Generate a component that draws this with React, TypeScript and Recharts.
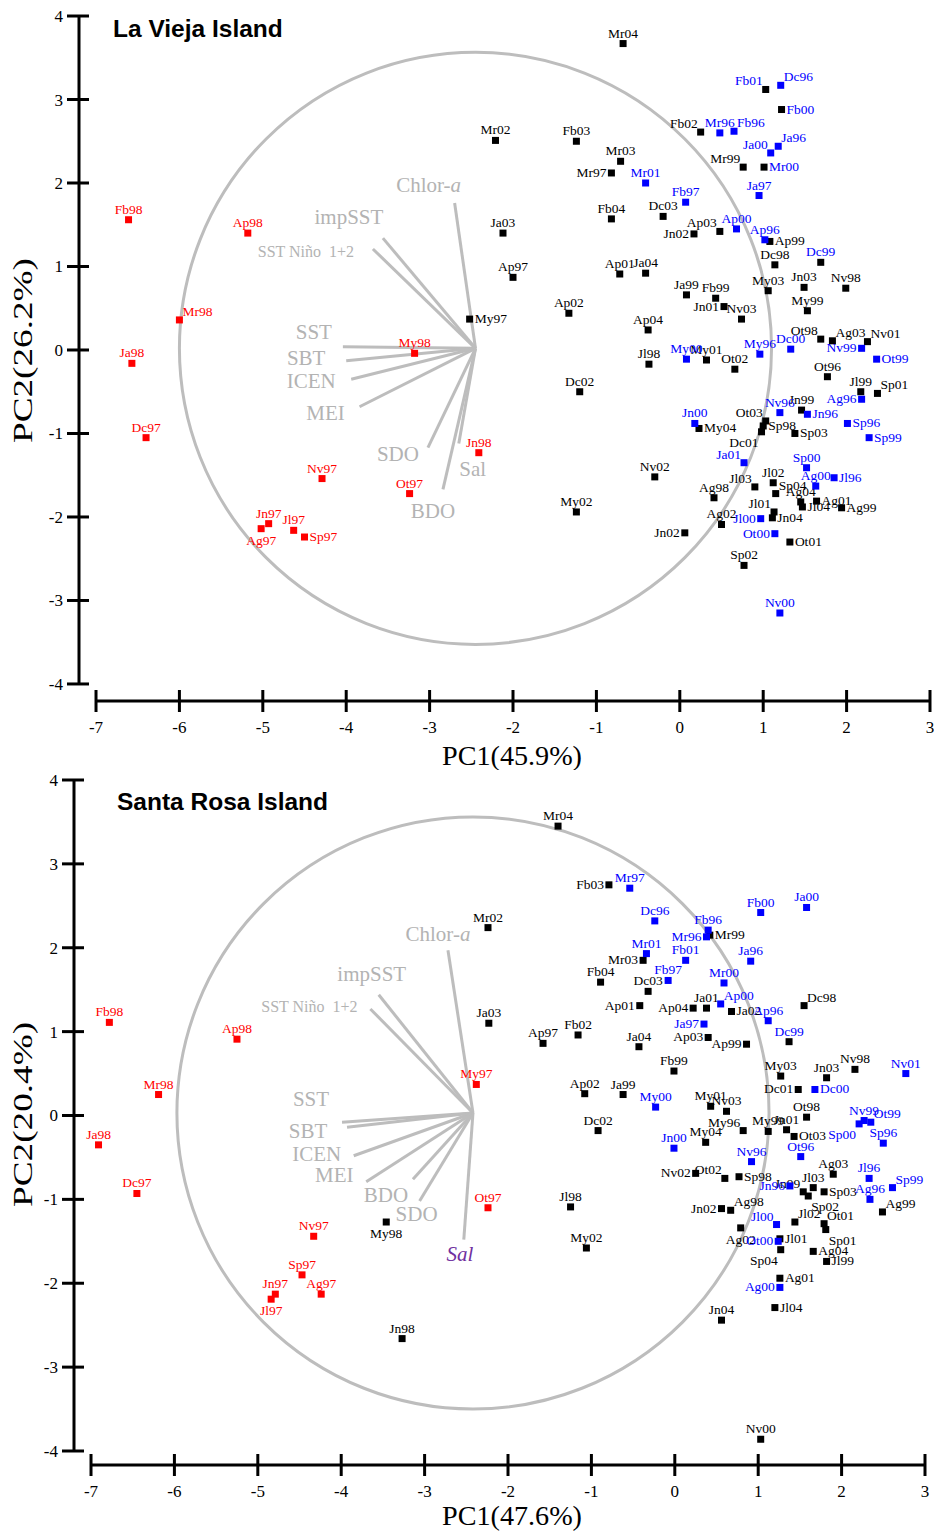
import React from 'react';
import { ScatterChart, Scatter, XAxis, YAxis, ReferenceLine, ReferenceDot, Label } from 'recharts';

type Pt = [string, number, number];

const serif = "'Liberation Serif', 'Times New Roman', serif";
const sans = "'Liberation Sans', Arial, sans-serif";

const xTicks = [-7, -6, -5, -4, -3, -2, -1, 0, 1, 2, 3];
const yTicks = [-4, -3, -2, -1, 0, 1, 2, 3, 4];

// ---- La Vieja Island (PC1 45.9%, PC2 26.2%) ----
const lvBlack: Pt[] = [
  ['Mr04', -0.68, 3.67], ['Fb01', 1.03, 3.12], ['Fb00', 1.22, 2.88], ['Fb02', 0.25, 2.61],
  ['Mr99', 0.76, 2.19], ['Mr00', 1.01, 2.19], ['Fb03', -1.24, 2.5], ['Mr03', -0.71, 2.26],
  ['Mr97', -0.82, 2.12], ['Mr02', -2.21, 2.51], ['Fb04', -0.82, 1.57], ['Dc03', -0.2, 1.6],
  ['Jn02', 0.17, 1.39], ['Ap03', 0.48, 1.42], ['Ap99', 1.08, 1.3], ['Dc98', 1.14, 1.02],
  ['Dc99', 1.69, 1.05], ['Ja03', -2.12, 1.4], ['Ap97', -2.0, 0.87], ['Ap01', -0.72, 0.91],
  ['Ja04', -0.41, 0.92], ['Ja99', 0.08, 0.66], ['Fb99', 0.43, 0.62], ['Jn01', 0.53, 0.52],
  ['Nv03', 0.74, 0.37], ['My03', 1.06, 0.71], ['Jn03', 1.49, 0.75], ['Nv98', 1.99, 0.74],
  ['My99', 1.53, 0.47], ['Ap02', -1.33, 0.44], ['Ap04', -0.38, 0.24], ['My97', -2.52, 0.37],
  ['Ot98', 1.69, 0.13], ['Ag03', 1.83, 0.11], ['Nv01', 2.25, 0.1], ['My01', 0.32, -0.12],
  ['Ot02', 0.66, -0.23], ['Jl98', -0.37, -0.17], ['Dc02', -1.2, -0.5], ['Ot96', 1.77, -0.32],
  ['Jl99', 2.17, -0.5], ['Sp01', 2.37, -0.52], ['Jn99', 1.46, -0.72], ['My04', 0.23, -0.94],
  ['Ot03', 1.03, -0.85], ['Sp98', 1.0, -0.91], ['Dc01', 0.98, -0.98], ['Sp03', 1.38, -1.0],
  ['Nv02', -0.3, -1.52], ['Jl03', 0.9, -1.64], ['Jl02', 1.12, -1.59], ['Sp04', 1.15, -1.72],
  ['Ag04', 1.45, -1.82], ['Ag01', 1.64, -1.81], ['Jl04', 1.47, -1.88], ['Ag99', 1.94, -1.89],
  ['Ag98', 0.41, -1.77], ['My02', -1.24, -1.94], ['Jl01', 1.13, -1.94], ['Jn04', 1.11, -2.01],
  ['Ag02', 0.5, -2.09], ['Jn02', 0.06, -2.19], ['Ot01', 1.32, -2.3], ['Sp02', 0.77, -2.58],
];
const lvBlue: Pt[] = [
  ['Dc96', 1.21, 3.17], ['Mr96', 0.48, 2.6], ['Fb96', 0.65, 2.62], ['Ja96', 1.18, 2.44],
  ['Ja00', 1.09, 2.36], ['Mr01', -0.41, 2.0], ['Fb97', 0.07, 1.77], ['Ja97', 0.95, 1.85],
  ['Ap00', 0.68, 1.45], ['Ap96', 1.02, 1.32], ['Dc00', 1.33, 0.01], ['Nv99', 2.18, 0.02],
  ['Ot99', 2.36, -0.11], ['My00', 0.08, -0.11], ['My96', 0.96, -0.05], ['Ag96', 2.18, -0.59],
  ['Nv96', 1.2, -0.75], ['Jn96', 1.53, -0.77], ['Sp96', 2.01, -0.88], ['Sp99', 2.27, -1.05],
  ['Jn00', 0.18, -0.88], ['Ja01', 0.77, -1.35], ['Sp00', 1.52, -1.41], ['Ag00', 1.63, -1.63],
  ['Jl96', 1.85, -1.53], ['Jl00', 0.97, -2.02], ['Ot00', 1.14, -2.2], ['Nv00', 1.2, -3.15],
];
const lvRed: Pt[] = [
  ['Fb98', -6.61, 1.56], ['Ap98', -5.18, 1.4], ['Mr98', -6.0, 0.36], ['Ja98', -6.57, -0.16],
  ['My98', -3.18, -0.04], ['Dc97', -6.4, -1.05], ['Nv97', -4.29, -1.54], ['Jn98', -2.41, -1.23],
  ['Ot97', -3.24, -1.72], ['Jn97', -4.93, -2.08], ['Ag97', -5.02, -2.14], ['Jl97', -4.63, -2.16],
  ['Sp97', -4.5, -2.24],
];
const lvBlueLabelOnBlack = ['Fb01', 'Fb00', 'Mr00', 'Dc99'];
const lvOrigin: [number, number] = [-2.45, 0.02];
const lvRadius = 3.55;
const lvLoadings: Pt[] = [
  ['Chlor-a', -2.7, 1.76], ['impSST', -3.56, 1.34], ['SST Niño  1+2', -3.68, 1.21],
  ['SST', -4.04, 0.04], ['SBT', -4.0, -0.13], ['ICEN', -3.94, -0.35], ['MEI', -3.84, -0.68],
  ['SDO', -3.02, -1.17], ['BDO', -2.84, -1.67], ['Sal', -2.65, -1.12],
];

// ---- Santa Rosa Island (PC1 47.6%, PC2 20.4%) ----
const srBlack: Pt[] = [
  ['Mr04', -1.4, 3.45], ['Fb03', -0.79, 2.75], ['Mr02', -2.24, 2.24], ['Mr99', 0.42, 2.15],
  ['Mr03', -0.38, 1.85], ['Fb04', -0.89, 1.59], ['Dc03', -0.32, 1.48], ['Ap01', -0.42, 1.31],
  ['Ap04', 0.22, 1.28], ['Ja01', 0.38, 1.28], ['Ja02', 0.68, 1.24], ['Dc98', 1.55, 1.31],
  ['Ja03', -2.23, 1.1], ['Ap97', -1.58, 0.86], ['Fb02', -1.16, 0.96], ['Ja04', -0.43, 0.82],
  ['Ap03', 0.4, 0.93], ['Ap99', 0.86, 0.85], ['Dc99', 1.37, 0.88], ['Fb99', -0.01, 0.53],
  ['My03', 1.27, 0.47], ['Jn03', 1.82, 0.45], ['Nv98', 2.16, 0.55], ['Ap02', -1.08, 0.26],
  ['Ja99', -0.62, 0.25], ['Dc01', 1.48, 0.31], ['My01', 0.43, 0.11], ['Nv03', 0.62, 0.05],
  ['Ot98', 1.58, -0.02], ['Dc02', -0.92, -0.18], ['My96', 0.82, -0.18], ['My99', 1.12, -0.19],
  ['Jn01', 1.34, -0.17], ['Ot03', 1.43, -0.25], ['My04', 0.37, -0.32], ['Nv02', 0.25, -0.69],
  ['Ot02', 0.6, -0.75], ['Sp98', 0.77, -0.73], ['Ag03', 1.9, -0.7], ['Jl03', 1.66, -0.86],
  ['Jn99', 1.54, -0.91], ['Sp02', 1.6, -0.96], ['Sp03', 1.79, -0.91], ['Ag99', 2.49, -1.15],
  ['Jl98', -1.25, -1.09], ['My02', -1.06, -1.58], ['Jn02', 0.56, -1.11], ['Ag98', 0.67, -1.13],
  ['Ag02', 0.79, -1.34], ['Jl02', 1.44, -1.27], ['Ot01', 1.79, -1.29], ['Sp01', 1.81, -1.36],
  ['Jl01', 1.26, -1.47], ['Sp04', 1.27, -1.6], ['Ag04', 1.66, -1.62], ['Jl99', 1.82, -1.74],
  ['Ag01', 1.26, -1.94], ['Jl04', 1.2, -2.29], ['Jn04', 0.56, -2.44], ['Nv00', 1.03, -3.86],
  ['My98', -3.46, -1.27], ['Jn98', -3.27, -2.66],
];
const srBlue: Pt[] = [
  ['Mr97', -0.54, 2.71], ['Dc96', -0.24, 2.32], ['Fb96', 0.4, 2.21], ['Mr96', 0.38, 2.13],
  ['Fb00', 1.03, 2.42], ['Ja00', 1.58, 2.48], ['Mr01', -0.34, 1.93], ['Fb01', 0.13, 1.85],
  ['Ja96', 0.91, 1.84], ['Fb97', -0.08, 1.61], ['Mr00', 0.59, 1.58], ['Ap00', 0.55, 1.33],
  ['Ap96', 1.12, 1.13], ['Ja97', 0.35, 1.09], ['Nv01', 2.77, 0.5], ['Dc00', 1.68, 0.31],
  ['My00', -0.23, 0.1], ['Nv99', 2.27, -0.06], ['Ot99', 2.35, -0.08], ['Sp00', 2.21, -0.1],
  ['Sp96', 2.5, -0.33], ['Jn00', -0.01, -0.39], ['Ot96', 1.51, -0.49], ['Nv96', 0.92, -0.55],
  ['Jl96', 2.33, -0.75], ['Sp99', 2.61, -0.86], ['Jn96', 1.38, -0.84], ['Ag96', 2.34, -1.0],
  ['Jl00', 1.22, -1.3], ['Ot00', 1.24, -1.5], ['Ag00', 1.26, -2.05],
];
const srRed: Pt[] = [
  ['Fb98', -6.78, 1.11], ['Ap98', -5.25, 0.91], ['Mr98', -6.19, 0.25], ['Ja98', -6.91, -0.35],
  ['My97', -2.38, 0.37], ['Dc97', -6.45, -0.93], ['Nv97', -4.33, -1.44], ['Ot97', -2.24, -1.1],
  ['Sp97', -4.47, -1.9], ['Ag97', -4.24, -2.13], ['Jn97', -4.79, -2.13], ['Jl97', -4.84, -2.19],
];
const srBlueLabelOnBlack = ['Dc99'];
const srOrigin: [number, number] = [-2.42, 0.03];
const srRadius = 3.55;
const srLoadings: Pt[] = [
  ['Chlor-a', -2.72, 1.97], ['impSST', -3.55, 1.44], ['SST Niño  1+2', -3.65, 1.27],
  ['SST', -3.99, -0.08], ['SBT', -3.93, -0.14], ['ICEN', -3.85, -0.48], ['MEI', -3.7, -0.79],
  ['BDO', -3.14, -0.76], ['SDO', -3.06, -1.02], ['Sal', -2.53, -1.48],
];

// label placement around the marker (default: above)
const lvPlace: Record<string, string> = {
  Fb01: 'tl', Dc96: 'tr', Fb00: 'r', Fb02: 'tl', Fb96: 'tr', Ja96: 'tr', Ja00: 'tl', Mr99: 'tl',
  Mr00: 'r', Mr97: 'l', Jn02: 'l', Ap03: 'tl', Ap99: 'r', Jn01: 'l', Ot98: 'tl', Ag03: 'tr',
  Nv01: 'tr', Nv99: 'l', Ot99: 'r', Sp01: 'tr', Ag96: 'l', Jn96: 'r', Sp96: 'r', Sp99: 'r',
  My04: 'r', Ot03: 'tl', Sp98: 'r', Dc01: 'bl', Sp03: 'r', Ja01: 'tl', Jl96: 'r', Jl03: 'tl',
  Sp04: 'tr', Ag01: 'r', Jl04: 'r', Ag99: 'r', Jl01: 'tl', Jn04: 'r', Jl00: 'l',
  Ot00: 'l', Ot01: 'r', Mr98: 'tr', Ag97: 'b', Sp97: 'r', My97: 'r',
};
const srPlace: Record<string, string> = {
  Fb03: 'l', Mr99: 'r', Mr96: 'l', Mr03: 'l', Ap01: 'l', Ap04: 'l', Ap00: 'tr', Ja02: 'r',
  Dc98: 'tr', Ja97: 'l', Ap03: 'l', Ap99: 'l', Dc01: 'l', Dc00: 'r', Ot99: 'tr', Sp00: 'bl',
  Ot03: 'r', Nv02: 'l', Ot02: 'tl', Sp98: 'r', Sp99: 'tr', Jn96: 'l', Jn99: 'tl', Sp02: 'br',
  Sp03: 'r', Ag99: 'tr', Jn02: 'l', Ag98: 'tr', Ag02: 'b', Jl00: 'tl', Jl02: 'tr', Ot01: 'tr',
  Sp01: 'br', Jl01: 'r', Ot00: 'l', Sp04: 'bl', Ag04: 'r', Jl99: 'r', Ag01: 'r', Ag00: 'l',
  Jl04: 'r', Jl97: 'b', My98: 'b', My96: 'tl',
};

// loading label offsets (px, label centre relative to arrow tip)
const lvLoadOff: Record<string, [number, number]> = {
  'Chlor-a': [-26, -18], impSST: [-34, -21], 'SST Niño  1+2': [-67, 2], SST: [-29, -15],
  SBT: [-40, -3], ICEN: [-40, 1], MEI: [-34, 6], SDO: [-30, 6], BDO: [-10, 21], Sal: [14, 25],
};
const srLoadOff: Record<string, [number, number]> = {
  'Chlor-a': [-10, -17], impSST: [-7, -21], 'SST Niño  1+2': [-61, -3], SST: [-31, -24],
  SBT: [-39, 3], ICEN: [-37, -2], MEI: [-32, -7], BDO: [-27, 15], SDO: [-3, 13], Sal: [-4, 14],
};

const toRows = (pts: Pt[]) => pts.map(([name, x, y]) => ({ name, x, y }));

const labelPos = (place: string | undefined, cx: number, cy: number) => {
  switch (place) {
    case 'r': return { x: cx + 5, y: cy + 4, a: 'start' };
    case 'l': return { x: cx - 5, y: cy + 4, a: 'end' };
    case 'tr': return { x: cx + 3, y: cy - 4, a: 'start' };
    case 'tl': return { x: cx - 3, y: cy - 4, a: 'end' };
    case 'b': return { x: cx, y: cy + 16, a: 'middle' };
    case 'bl': return { x: cx - 3, y: cy + 15, a: 'end' };
    case 'br': return { x: cx + 3, y: cy + 15, a: 'start' };
    default: return { x: cx, y: cy - 6, a: 'middle' };
  }
};

const pointShape = (fill: string, place: Record<string, string>, blueLabels: string[]) => (p: any) => {
  const { cx, cy, payload } = p;
  const pos = labelPos(place[payload.name], cx, cy);
  const lab = blueLabels.includes(payload.name) ? '#0000ff' : fill;
  return (
    <g>
      <rect x={cx - 3.5} y={cy - 3.5} width={7} height={7} fill={fill} />
      <text x={pos.x} y={pos.y} textAnchor={pos.a} fontSize={13.5} fontFamily={serif} fill={lab}>
        {payload.name}
      </text>
    </g>
  );
};

const loadShape = (off: Record<string, [number, number]>, purpleSal: boolean) => (p: any) => {
  const { cx, cy, payload } = p;
  const [dx, dy] = off[payload.name] || [0, 0];
  const small = payload.name.startsWith('SST N');
  const purple = purpleSal && payload.name === 'Sal';
  return (
    <text
      x={cx + dx}
      y={cy + dy}
      dy="0.35em"
      textAnchor="middle"
      fontSize={small ? 16 : 21}
      fontFamily={serif}
      fill={purple ? '#7030a0' : '#b3b3b3'}
      fontStyle={purple ? 'italic' : 'normal'}
      style={{ whiteSpace: 'pre' }}
    >
      {payload.name === 'Chlor-a' ? (
        <>
          Chlor-<tspan fontStyle="italic">a</tspan>
        </>
      ) : (
        payload.name
      )}
    </text>
  );
};

const XTick = (p: any) => (
  <g>
    <line x1={p.x} x2={p.x} y1={p.y - 11} y2={p.y + 11} stroke="#000" strokeWidth={3} />
    <text x={p.x} y={p.y + 32} textAnchor="middle" fontSize={17} fontFamily={serif} fill="#000">
      {p.payload.value}
    </text>
  </g>
);
const YTick = (p: any) => (
  <g>
    <line x1={p.x - 12} x2={p.x + 10} y1={p.y} y2={p.y} stroke="#000" strokeWidth={3} />
    <text x={p.x - 16} y={p.y + 6} textAnchor="end" fontSize={17} fontFamily={serif} fill="#000">
      {p.payload.value}
    </text>
  </g>
);

const xTitle = (text: string, gap: number) => (props: any) => {
  const vb = props.viewBox;
  return (
    <text
      x={512}
      y={vb.y + gap}
      dy="0.35em"
      textAnchor="middle"
      fontSize={28}
      fontFamily={serif}
      fill="#000"
      textLength={140}
      lengthAdjust="spacingAndGlyphs"
    >
      {text}
    </text>
  );
};
const yTitle = (text: string) => (props: any) => {
  const vb = props.viewBox;
  const cx = 22;
  const cy = vb.y + vb.height / 2 - 6;
  return (
    <text
      x={cx}
      y={cy}
      dy="0.35em"
      transform={`rotate(-90 ${cx} ${cy})`}
      textAnchor="middle"
      fontSize={28}
      fontFamily={serif}
      fill="#000"
      textLength={185}
      lengthAdjust="spacingAndGlyphs"
    >
      {text}
    </text>
  );
};

type BiplotProps = {
  title: string; xLabel: string; yLabel: string; xLabelGap: number;
  black: Pt[]; blue: Pt[]; red: Pt[]; blueLabels: string[];
  place: Record<string, string>; loadings: Pt[]; loadOff: Record<string, [number, number]>;
  purpleSal: boolean;
  origin: [number, number]; radius: number;
  height: number; top: number; left: number; right: number; plotBottom: number;
  xDomain: [number, number]; yDomain: [number, number];
  titleTop: number; titleLeft: number;
};

const W = 934;

const Biplot = (b: BiplotProps) => {
  const plotW = W - b.left - b.right;
  const pxPerUnit = plotW / (b.xDomain[1] - b.xDomain[0]);
  return (
    <div style={{ position: 'relative', width: W, height: b.height }}>
      <ScatterChart
        width={W}
        height={b.height}
        margin={{ top: b.top, right: b.right, left: 0, bottom: 0 }}
      >
        <XAxis
          type="number"
          dataKey="x"
          domain={b.xDomain}
          ticks={xTicks}
          allowDataOverflow
          axisLine={false}
          tickLine={false}
          tickSize={0}
          tickMargin={0}
          tick={<XTick />}
          height={b.height - b.plotBottom}
          interval={0}
        >
          <Label content={xTitle(b.xLabel, b.xLabelGap)} />
        </XAxis>
        <YAxis
          type="number"
          dataKey="y"
          domain={b.yDomain}
          ticks={yTicks}
          allowDataOverflow
          axisLine={false}
          tickLine={false}
          tickSize={0}
          tickMargin={0}
          tick={<YTick />}
          width={b.left}
          interval={0}
        >
          <Label content={yTitle(b.yLabel)} />
        </YAxis>
        <ReferenceLine
          segment={[{ x: b.xDomain[0], y: 4 }, { x: b.xDomain[0], y: -4 }]}
          stroke="#000"
          strokeWidth={3}
          ifOverflow="visible"
        />
        <ReferenceLine
          segment={[{ x: -7, y: b.yDomain[0] }, { x: 3, y: b.yDomain[0] }]}
          stroke="#000"
          strokeWidth={3}
          ifOverflow="visible"
        />
        <ReferenceDot
          x={b.origin[0]}
          y={b.origin[1]}
          r={b.radius * pxPerUnit}
          fill="none"
          stroke="#bdbdbd"
          strokeWidth={3}
          ifOverflow="visible"
        />
        {b.loadings.map(([n, x, y]) => (
          <ReferenceLine
            key={n}
            segment={[{ x: b.origin[0], y: b.origin[1] }, { x, y }]}
            stroke="#bdbdbd"
            strokeWidth={3}
            ifOverflow="visible"
          />
        ))}
        <Scatter data={toRows(b.loadings)} shape={loadShape(b.loadOff, b.purpleSal)} isAnimationActive={false} />
        <Scatter data={toRows(b.black)} shape={pointShape('#000000', b.place, b.blueLabels)} isAnimationActive={false} />
        <Scatter data={toRows(b.blue)} shape={pointShape('#0000ff', b.place, b.blueLabels)} isAnimationActive={false} />
        <Scatter data={toRows(b.red)} shape={pointShape('#ff0000', b.place, b.blueLabels)} isAnimationActive={false} />
      </ScatterChart>
      <div
        style={{
          position: 'absolute',
          left: b.titleLeft,
          top: b.titleTop,
          fontFamily: sans,
          fontWeight: 'bold',
          fontSize: 24.5,
          lineHeight: '28px',
          color: '#000',
          whiteSpace: 'nowrap',
        }}
      >
        {b.title}
      </div>
    </div>
  );
};

export default function App() {
  return (
    <div style={{ position: 'absolute', left: 0, top: 0, width: W, height: 1533, background: '#fff' }}>
      <Biplot
        title="La Vieja Island"
        xLabel="PC1(45.9%)"
        yLabel="PC2(26.2%)"
        xLabelGap={54}
        black={lvBlack}
        blue={lvBlue}
        red={lvRed}
        blueLabels={lvBlueLabelOnBlack}
        place={lvPlace}
        loadings={lvLoadings}
        loadOff={lvLoadOff}
        purpleSal={false}
        origin={lvOrigin}
        radius={lvRadius}
        height={770}
        top={12}
        left={79}
        right={1}
        plotBottom={701}
        xDomain={[-7.204, 3.036]}
        yDomain={[-4.204, 4.048]}
        titleTop={15}
        titleLeft={113}
      />
      <Biplot
        title="Santa Rosa Island"
        xLabel="PC1(47.6%)"
        yLabel="PC2(20.4%)"
        xLabelGap={50}
        black={srBlack}
        blue={srBlue}
        red={srRed}
        blueLabels={srBlueLabelOnBlack}
        place={srPlace}
        loadings={srLoadings}
        loadOff={srLoadOff}
        purpleSal={true}
        origin={srOrigin}
        radius={srRadius}
        height={763}
        top={5.8}
        left={74}
        right={5}
        plotBottom={695}
        xDomain={[-7.204, 3.048]}
        yDomain={[-4.167, 4.05]}
        titleTop={18}
        titleLeft={117}
      />
    </div>
  );
}
